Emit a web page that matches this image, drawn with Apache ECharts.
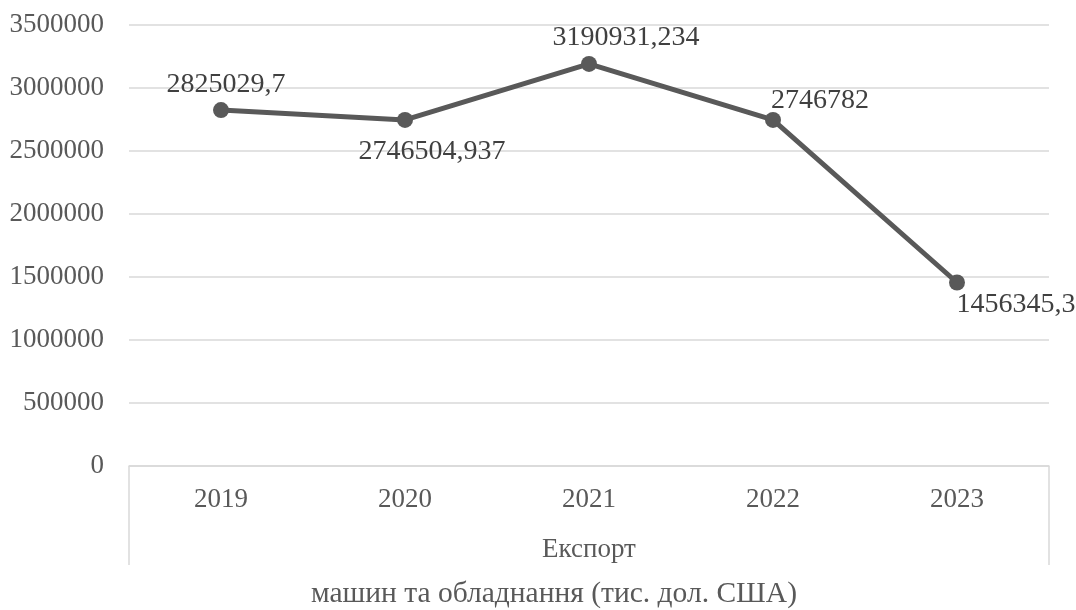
<!DOCTYPE html>
<html>
<head>
<meta charset="utf-8">
<script src="https://cdn.jsdelivr.net/npm/echarts@6/dist/echarts.min.js"></script>
<style>html,body{margin:0;padding:0;background:#fff;}#c{width:1076px;height:610px;}</style>
</head>
<body>
<div id="c"></div>
<script>
const categories = ['2019', '2020', '2021', '2022', '2023'];
const groupLabels = ['Експорт'];
const values = [2825029.7, 2746504.937, 3190931.234, 2746782, 1456345.3];
const valueLabels = ['2825029,7', '2746504,937', '3190931,234', '2746782', '1456345,3'];
const labelOffsets = [[5, -25], [27, 32], [37, -26], [47, -19], [59, 22]];
const axisTitle = 'машин та обладнання (тис. дол. США)';

const FONT = '"Liberation Serif", "Times New Roman", serif';
const chart = echarts.init(document.getElementById('c'));
chart.setOption({
  backgroundColor: '#fff',
  animation: false,
  grid: { left: 129, right: 27, top: 25, bottom: 144, containLabel: false },
  graphic: [{
    type: 'text',
    x: 554,
    y: 594,
    style: {
      text: axisTitle,
      x: 0, y: 0,
      textAlign: 'center',
      textVerticalAlign: 'middle',
      fill: '#595959',
      font: '29.5px ' + FONT
    }
  }],
  xAxis: [{
    type: 'category',
    data: categories,
    boundaryGap: true,
    axisLine: { show: true, lineStyle: { color: '#d9d9d9', width: 1.5 } },
    axisTick: { show: false },
    axisLabel: { color: '#595959', fontFamily: FONT, fontSize: 27, margin: 20 }
  }, {
    type: 'category',
    data: groupLabels,
    position: 'bottom',
    boundaryGap: true,
    axisLine: { show: false },
    axisTick: { show: true, length: 99, inside: false, alignWithLabel: false, lineStyle: { color: '#d9d9d9', width: 1.5 } },
    axisLabel: { color: '#595959', fontFamily: FONT, fontSize: 27, margin: 70 }
  }],
  yAxis: {
    type: 'value',
    min: 0,
    max: 3500000,
    interval: 500000,
    axisLine: { show: false },
    axisTick: { show: false },
    splitLine: { lineStyle: { color: '#d9d9d9', width: 1.5 } },
    axisLabel: { color: '#595959', fontFamily: FONT, fontSize: 27, margin: 25, formatter: v => String(v) }
  },
  series: [{
    type: 'line',
    xAxisIndex: 0,
    data: values.map((v, i) => ({
      value: v,
      label: {
        show: true,
        position: 'inside',
        offset: labelOffsets[i],
        formatter: () => valueLabels[i],
        color: '#404040',
        fontFamily: FONT,
        fontSize: 28
      }
    })),
    symbol: 'circle',
    symbolSize: 16,
    lineStyle: { color: '#595959', width: 5 },
    itemStyle: { color: '#595959' }
  }]
});
</script>
</body>
</html>
